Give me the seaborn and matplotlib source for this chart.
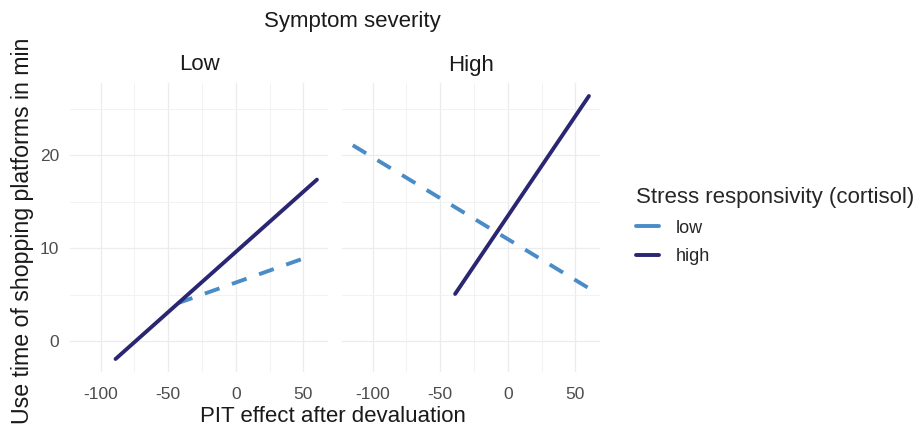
import pandas as pd
import matplotlib.pyplot as plt
from matplotlib.lines import Line2D
from matplotlib.ticker import MultipleLocator
import seaborn as sns

# Fitted lines (end points per facet and cortisol group)
severity = ["Low", "Low", "Low", "Low", "High", "High", "High", "High"]
cortisol = ["low", "low", "high", "high", "low", "low", "high", "high"]
pit_effect = [-43, 55.5, -89, 60, -114.7, 59, -39, 60]
use_time = [4.1, 9.2, -1.9, 17.4, 21.1, 5.8, 5.1, 26.4]

panels = ["Low", "High"]
line_colors = {"low": "#4A8CC8", "high": "#2A2672"}
line_dashes = {"low": (4.0, 3.4), "high": ""}

df = pd.DataFrame({"severity": severity, "cortisol": cortisol,
                   "pit": pit_effect, "use_time": use_time})

sns.set_style("white")
plt.rcParams["font.family"] = ["Liberation Sans", "DejaVu Sans"]
plt.rcParams["axes.unicode_minus"] = False

W, H = 921, 428
fig = plt.figure(figsize=(W / 100, H / 100), dpi=100)

# panel boxes in pixels: (left, right)
boxes = {"Low": (70, 328), "High": (342, 600)}
top_px, bottom_px = 83, 372
lw = 2.8

for i, sev in enumerate(panels):
    l, r = boxes[sev]
    ax = fig.add_axes([l / W, 1 - bottom_px / H, (r - l) / W, (bottom_px - top_px) / H])
    sub = df[df["severity"] == sev]
    sns.lineplot(data=sub, x="pit", y="use_time", hue="cortisol", style="cortisol",
                 palette=line_colors, dashes=line_dashes, linewidth=lw,
                 estimator=None, sort=False, legend=False, ax=ax)
    ax.set_xlim(-122.7, 68.2)
    ax.set_ylim(-3.3, 27.8)
    ax.xaxis.set_major_locator(MultipleLocator(50))
    ax.xaxis.set_minor_locator(MultipleLocator(25))
    ax.yaxis.set_major_locator(MultipleLocator(10))
    ax.yaxis.set_minor_locator(MultipleLocator(5))
    ax.grid(which="major", color="#ECECEC", linewidth=0.9)
    ax.grid(which="minor", color="#F2F2F2", linewidth=0.7)
    ax.set_axisbelow(True)
    for s in ax.spines.values():
        s.set_visible(False)
    ax.tick_params(which="both", length=0, labelsize=12.5, colors="#4D4D4D")
    ax.tick_params(axis="x", pad=11)
    ax.tick_params(axis="y", pad=8)
    ax.set_xlabel("")
    ax.set_ylabel("")
    if i > 0:
        ax.tick_params(labelleft=False)
    fig.text((l + r) / 2 / W, 1 - 65 / H, sev, ha="center", va="center",
             fontsize=16, color="#1A1A1A")

fig.text(352 / W, 1 - 22 / H, "Symptom severity", ha="center", va="center",
         fontsize=16, color="#1A1A1A")
fig.text(333 / W, 1 - 422 / H, "PIT effect after devaluation", ha="center", va="baseline",
         fontsize=16, color="#1A1A1A")
fig.text(23 / W, 1 - 231 / H, "Use time of shopping platforms in min", ha="center",
         va="center", rotation=90, fontsize=16.7, color="#1A1A1A")

handles = [Line2D([], [], color=line_colors["low"], lw=lw),
           Line2D([], [], color=line_colors["high"], lw=lw)]
leg = fig.legend(handles, ["low", "high"], title="Stress responsivity (cortisol)",
                 loc="upper left", bbox_to_anchor=(636 / W, 1 - 187 / H), frameon=False,
                 borderpad=0, borderaxespad=0, fontsize=13, title_fontsize=16,
                 handlelength=1.3, handletextpad=0.9, labelspacing=0.65)
leg._legend_box.align = "left"

fig.savefig("out.png", dpi=100)
